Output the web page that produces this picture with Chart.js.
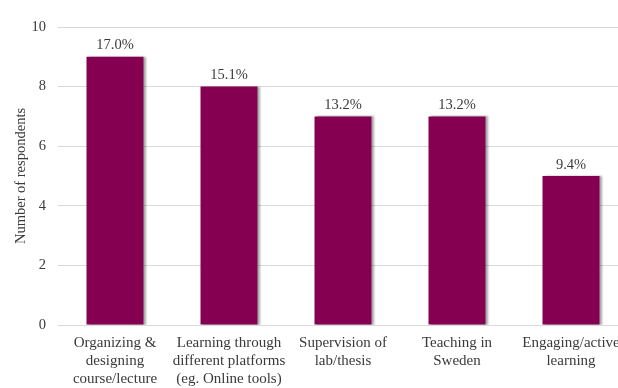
<!DOCTYPE html>
<html>
<head>
<meta charset="utf-8">
<script src="https://cdn.jsdelivr.net/npm/chart.js@4/dist/chart.umd.min.js"></script>
<style>
  html, body { margin: 0; padding: 0; background: #fff; overflow: hidden; }
  #wrap { width: 618px; height: 388px; overflow: hidden; }
</style>
</head>
<body>
<div id="wrap"><canvas id="myChart" width="630" height="388"></canvas></div>
<script>
const categories = [
	['Organizing &', 'designing', 'course/lecture'],
	['Learning through', 'different platforms', '(eg. Online tools)'],
	['Supervision of', 'lab/thesis'],
	['Teaching in', 'Sweden'],
	['Engaging/active', 'learning']
];
const respondents = [9, 8, 7, 7, 5];
const percentLabels = ['17.0%', '15.1%', '13.2%', '13.2%', '9.4%'];

const serif = "'Liberation Serif', 'Times New Roman', serif";

// draws the percentage above each bar
const topLabels = {
	id: 'topLabels',
	afterDatasetsDraw(chart) {
		const ctx = chart.ctx;
		const meta = chart.getDatasetMeta(0);
		ctx.save();
		ctx.font = '14.5px ' + serif;
		ctx.fillStyle = '#3a3a3a';
		ctx.textAlign = 'center';
		ctx.textBaseline = 'bottom';
		meta.data.forEach((bar, i) => {
			ctx.fillText(percentLabels[i], bar.x, bar.y - 4);
		});
		ctx.restore();
	}
};

// soft shadow on the bars like the original
const barShadow = {
	id: 'barShadow',
	beforeDatasetsDraw(chart) {
		const ctx = chart.ctx;
		ctx.save();
		ctx.shadowColor = 'rgba(0,0,0,0.35)';
		ctx.shadowOffsetX = 2;
		ctx.shadowOffsetY = 0;
		ctx.shadowBlur = 2;
	},
	afterDatasetsDraw(chart) {
		chart.ctx.restore();
	}
};

const myChart = document.getElementById('myChart');

let barChart = new Chart(myChart, {
	type: 'bar',
	data: {
		labels: categories,
		datasets: [{
			label: 'Number of respondents',
			data: respondents,
			backgroundColor: 'rgb(133, 0, 80)',
			borderWidth: 0,
			categoryPercentage: 1,
			barPercentage: 0.5
		}]
	},
	options: {
		responsive: false,
		animation: false,
		layout: { padding: { top: 27, right: 2, left: 0, bottom: 0 } },
		plugins: {
			legend: { display: false },
			tooltip: { enabled: false }
		},
		scales: {
			x: {
				grid: { display: false, drawTicks: false },
				border: { color: '#d9d9d9', width: 1 },
				ticks: {
					color: '#3a3a3a',
					font: { family: serif, size: 15, lineHeight: 1.2 },
					padding: 9,
					maxRotation: 0,
					autoSkip: false
				},
				afterFit(scale) { scale.height = 63; }
			},
			y: {
				min: 0,
				max: 10,
				ticks: {
					stepSize: 2,
					color: '#3a3a3a',
					font: { family: serif, size: 14.5 },
					padding: 12
				},
				grid: { color: '#d9d9d9', drawTicks: false },
				border: { display: false },
				title: {
					display: true,
					text: 'Number of respondents',
					color: '#3a3a3a',
					font: { family: serif, size: 14.5 },
					padding: { top: 12, bottom: 0 }
				},
				afterFit(scale) { scale.width = 58; }
			}
		}
	},
	plugins: [barShadow, topLabels]
});
</script>
</body>
</html>
